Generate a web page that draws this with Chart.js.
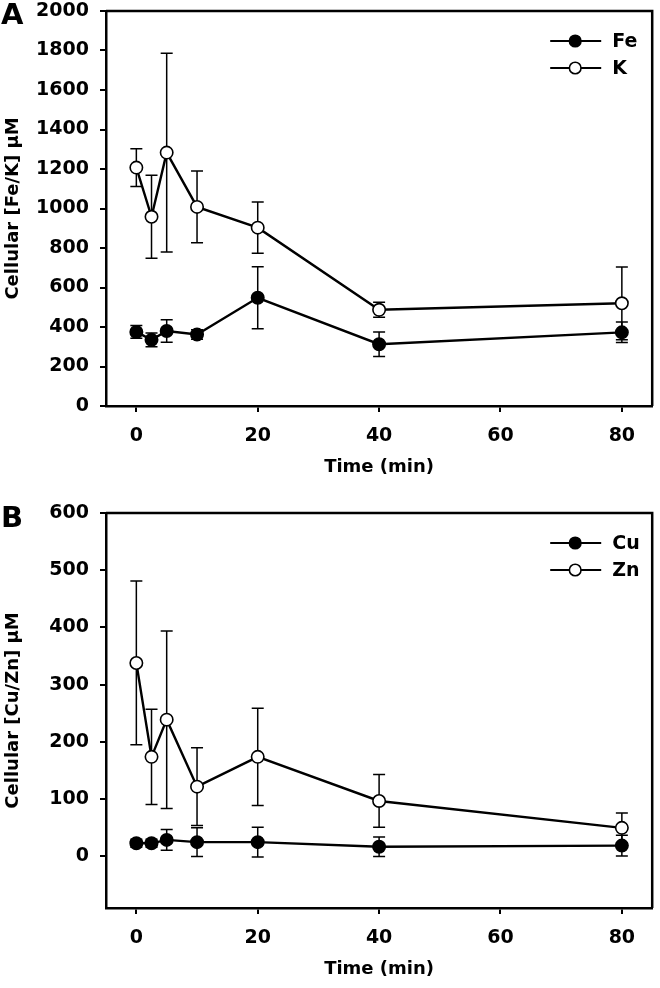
<!DOCTYPE html>
<html>
<head>
<meta charset="utf-8">
<script src="https://cdn.jsdelivr.net/npm/chart.js@4.4.1/dist/chart.umd.min.js"></script>
<style>
  html, body { margin: 0; padding: 0; background: #fff; }
  .panel { position: absolute; left: 0; width: 660px; height: 494px; }
  #wrapA { top: 0; }
  #wrapB { top: 494px; }
</style>
</head>
<body>
<div class="panel" id="wrapA"><canvas id="chartA" width="660" height="494"></canvas></div>
<div class="panel" id="wrapB"><canvas id="chartB" width="660" height="494"></canvas></div>
<script>
// time points (min)
const times = [0, 2.5, 5, 10, 20, 40, 80];
const xTicks = [0, 20, 40, 60, 80];

// panel A: Fe and K (uM), mean and error
const feMean = [375, 335, 380, 362, 548, 313, 373];
const feErr = [32, 35, 57, 24, 157, 62, 52];
const kMean = [1207, 958, 1283, 1008, 903, 487, 520];
const kErr = [96, 210, 503, 182, 130, 38, 184];
const yTicksA = [0, 200, 400, 600, 800, 1000, 1200, 1400, 1600, 1800, 2000];

// panel B: Cu and Zn (uM)
const cuMean = [23, 23, 29, 25, 25, 17, 19];
const cuErr = [7, 7, 18, 25, 26, 17, 18];
const znMean = [338, 174, 239, 122, 174, 97, 50];
const znErr = [143, 83, 155, 68, 85, 46, 26];
const yTicksB = [0, 100, 200, 300, 400, 500, 600];

const FONT = '"DejaVu Sans", sans-serif';
Chart.defaults.font.family = FONT;
Chart.defaults.font.weight = 'bold';
Chart.defaults.font.size = 19;
Chart.defaults.color = '#000';

const pts = (xs, ys) => xs.map((x, i) => ({ x: x, y: ys[i] }));

// vertical error bars with caps, under the markers
const errorBars = {
    id: 'errorBars',
    beforeDatasetsDraw(chart) {
        const { ctx, scales: { x, y } } = chart;
        ctx.save();
        ctx.strokeStyle = '#000';
        ctx.lineWidth = 1.5;
        chart.data.datasets.forEach(ds => {
            ds.data.forEach((p, i) => {
                const e = ds.errors[i];
                const px = x.getPixelForValue(p.x);
                const top = y.getPixelForValue(p.y + e);
                const bot = y.getPixelForValue(p.y - e);
                ctx.beginPath();
                ctx.moveTo(px, top); ctx.lineTo(px, bot);
                ctx.moveTo(px - 6, top); ctx.lineTo(px + 6, top);
                ctx.moveTo(px - 6, bot); ctx.lineTo(px + 6, bot);
                ctx.stroke();
            });
        });
        ctx.restore();
    }
};

// top + right frame lines, legend and panel letter
const decor = {
    id: 'decor',
    afterDraw(chart, args, opts) {
        const { ctx, chartArea: a } = chart;
        ctx.save();
        ctx.strokeStyle = '#000';
        ctx.lineWidth = 2.5;
        ctx.beginPath();
        ctx.moveTo(a.left, a.top);
        ctx.lineTo(a.right, a.top);
        ctx.lineTo(a.right, a.bottom);
        ctx.stroke();

        chart.data.datasets.forEach((ds, i) => {
            const cy = a.top + 30 + i * 27;
            ctx.lineWidth = 2.2;
            ctx.beginPath();
            ctx.moveTo(a.right - 102, cy);
            ctx.lineTo(a.right - 51, cy);
            ctx.stroke();
            ctx.beginPath();
            ctx.arc(a.right - 77, cy, 5.8, 0, Math.PI * 2);
            ctx.fillStyle = ds.pointBackgroundColor;
            ctx.fill();
            ctx.lineWidth = 1.6;
            ctx.stroke();
            ctx.fillStyle = '#000';
            ctx.font = 'bold 19px ' + FONT;
            ctx.textAlign = 'left';
            ctx.textBaseline = 'middle';
            ctx.fillText(ds.label, a.right - 40, cy + 1);
        });

        ctx.font = 'bold 29px ' + FONT;
        ctx.textAlign = 'left';
        ctx.textBaseline = 'alphabetic';
        ctx.fillText(opts.letter, 1, opts.letterY);
        ctx.restore();
    }
};

function series(label, means, errs, fill) {
    return {
        label: label,
        data: pts(times, means),
        errors: errs,
        borderColor: '#000',
        borderWidth: 2.4,
        tension: 0,
        pointRadius: 6.2,
        pointHoverRadius: 6.2,
        pointBorderWidth: 1.6,
        pointBorderColor: '#000',
        pointBackgroundColor: fill
    };
}

function makeChart(id, cfg) {
    return new Chart(document.getElementById(id), {
        type: 'line',
        data: { datasets: cfg.datasets },
        options: {
            responsive: false,
            animation: false,
            layout: { padding: { left: 0, top: cfg.top, right: 5, bottom: cfg.bottom } },
            plugins: {
                legend: { display: false },
                tooltip: { enabled: false },
                decor: { letter: cfg.letter, letterY: cfg.letterY }
            },
            scales: {
                x: {
                    type: 'linear',
                    min: -5,
                    max: 85,
                    afterBuildTicks: s => { s.ticks = xTicks.map(v => ({ value: v })); },
                    afterFit: s => { s.height = cfg.xHeight; s.paddingLeft = 0; s.paddingRight = 0; },
                    grid: { drawOnChartArea: false, tickLength: 6, color: '#000', lineWidth: 2 },
                    border: { display: true, color: '#000', width: 2.5 },
                    ticks: { padding: 13, maxRotation: 0, font: { size: 19, weight: 'bold' }, callback: v => String(v) },
                    title: { display: true, text: 'Time (min)', padding: { top: 4, bottom: 0 }, font: { size: 18, weight: 'bold' } }
                },
                y: {
                    type: 'linear',
                    min: cfg.yMin,
                    max: cfg.yMax,
                    afterBuildTicks: s => { s.ticks = cfg.yTicks.map(v => ({ value: v })); },
                    afterFit: s => { s.width = 106; s.paddingTop = 0; s.paddingBottom = 0; },
                    grid: { drawOnChartArea: false, tickLength: 6, color: '#000', lineWidth: 2 },
                    border: { display: true, color: '#000', width: 2.5 },
                    ticks: { padding: 11, font: { size: 19, weight: 'bold' }, callback: v => String(v) },
                    title: { display: true, text: cfg.yTitle, padding: { top: 3 }, font: { size: 18, weight: 'bold' } }
                }
            }
        },
        plugins: [errorBars, decor]
    });
}

makeChart('chartA', {
    datasets: [series('Fe', feMean, feErr, '#000'), series('K', kMean, kErr, '#fff')],
    top: 11, bottom: 16, xHeight: 72, yMin: 0, yMax: 2000, yTicks: yTicksA,
    yTitle: 'Cellular [Fe/K] µM', letter: 'A', letterY: 24
});

makeChart('chartB', {
    datasets: [series('Cu', cuMean, cuErr, '#000'), series('Zn', znMean, znErr, '#fff')],
    top: 19, bottom: 8, xHeight: 72, yMin: -90, yMax: 600, yTicks: yTicksB,
    yTitle: 'Cellular [Cu/Zn] µM', letter: 'B', letterY: 33
});
</script>
</body>
</html>
